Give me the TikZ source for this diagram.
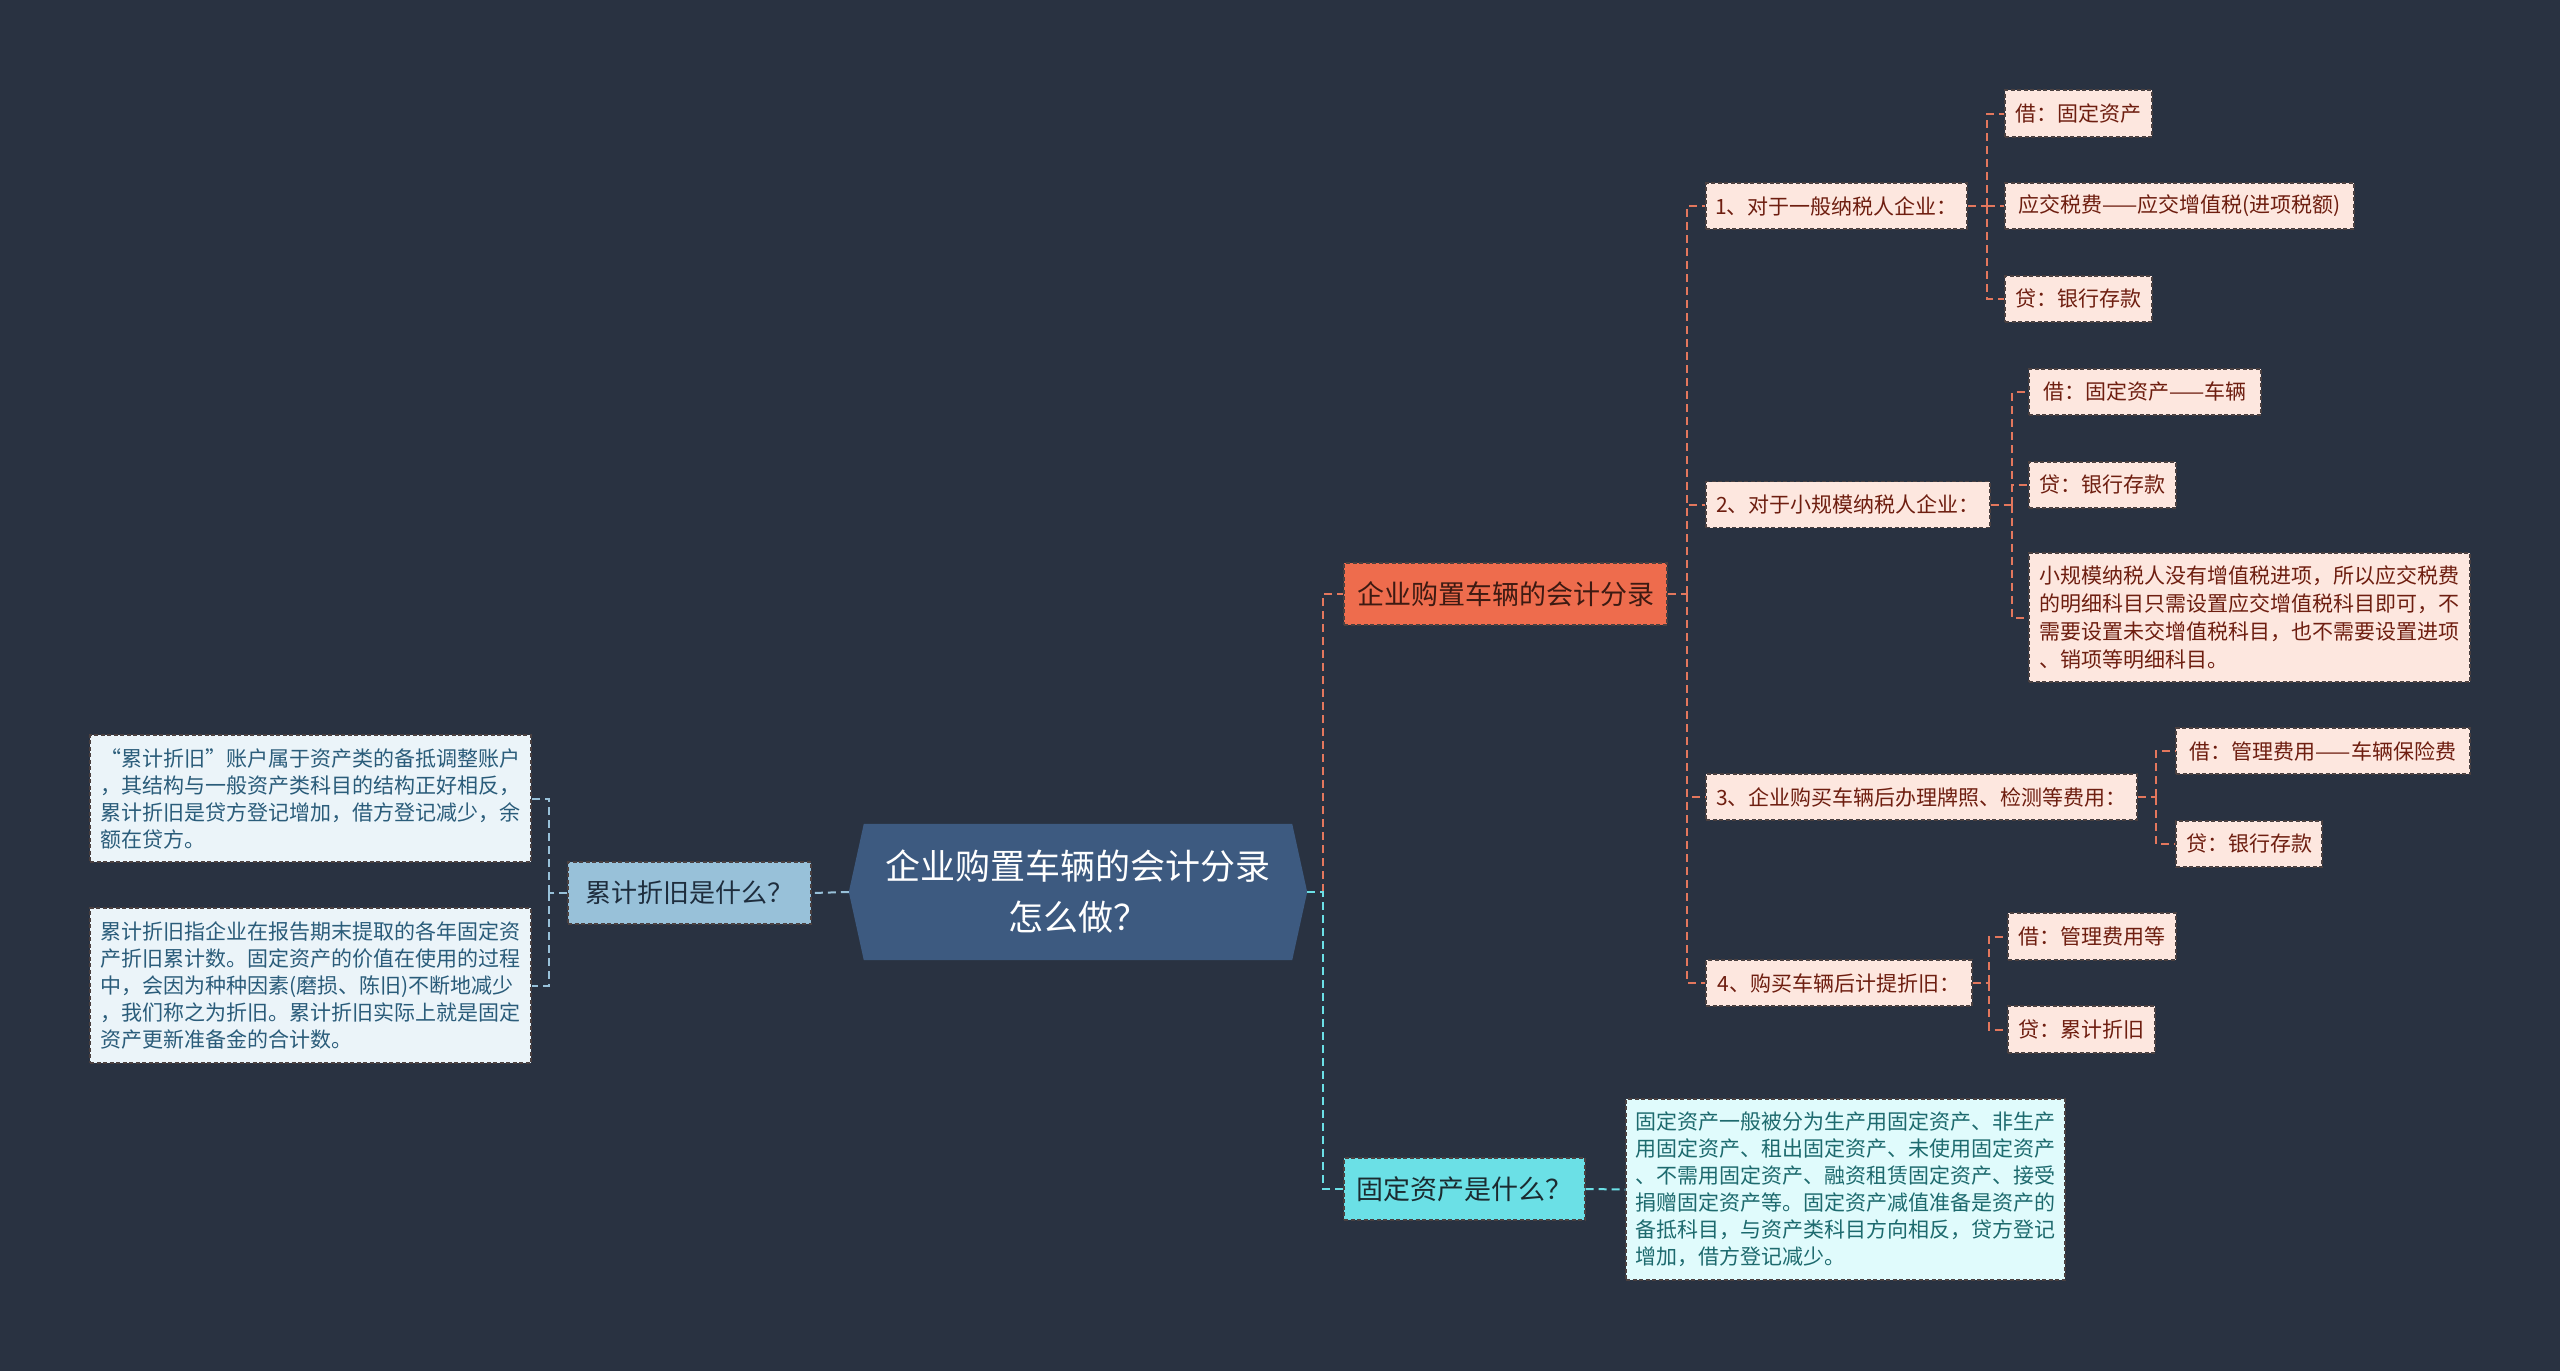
\documentclass[tikz,border=0pt]{standalone}
\usepackage{fontspec}
\setmainfont{Noto Sans CJK SC}
\usetikzlibrary{backgrounds}
\definecolor{bg}{HTML}{293241}
\definecolor{hexc}{HTML}{3D5A80}
\definecolor{orng}{HTML}{EE6C4D}
\definecolor{orngtxt}{HTML}{3D1A12}
\definecolor{pinkfill}{HTML}{FDE7DF}
\definecolor{pinktxt}{HTML}{6E1E10}
\definecolor{boxedge}{HTML}{4A4040}
\definecolor{olink}{HTML}{E3775D}
\definecolor{bnode}{HTML}{98C1D9}
\definecolor{bnodetxt}{HTML}{1E2D3D}
\definecolor{bfill}{HTML}{EBF4F9}
\definecolor{btxt}{HTML}{2A5C7A}
\definecolor{cnode}{HTML}{6BE0E6}
\definecolor{cnodetxt}{HTML}{1B2B30}
\definecolor{cfill}{HTML}{E0FBFC}
\definecolor{ctxt}{HTML}{1D6A6E}
\tikzset{
  basebox/.style={rectangle, draw=boxedge, dash pattern=on 4pt off 2.5pt, line width=1.3pt, inner sep=0pt},
  pinkbox/.style={basebox, fill=pinkfill, text=pinktxt, minimum height=46pt, font=\fontsize{21}{28}\selectfont},
  pinkpara/.style={pinkbox, align=left},
  orangebox/.style={basebox, fill=orng, text=orngtxt, minimum height=62pt, font=\fontsize{27}{32}\selectfont},
  bluebox/.style={basebox, fill=bnode, text=bnodetxt, minimum height=62pt, font=\fontsize{26}{32}\selectfont},
  bluepara/.style={basebox, fill=bfill, text=btxt, align=left, font=\fontsize{21}{27}\selectfont},
  cyanbox/.style={basebox, fill=cnode, text=cnodetxt, minimum height=62pt, font=\fontsize{27}{32}\selectfont},
  cyanpara/.style={basebox, fill=cfill, text=ctxt, align=left, font=\fontsize{21}{27}\selectfont},
  link/.style={dash pattern=on 8pt off 5pt, line width=2pt},
  olinkst/.style={link, draw=olink},
  blinkst/.style={link, draw=bnode},
  clinkst/.style={link, draw=cnode},
}
\begin{document}
\begin{tikzpicture}[x=1pt,y=-1pt]
\useasboundingbox (0,0) rectangle (2560,1371);

% root
\node[rectangle, minimum width=458pt, minimum height=136pt, inner sep=0pt, text=white, align=center,
  font=\fontsize{35}{51}\selectfont] (root) at (1078,892) {企业购置车辆的会计分录\\怎么做？};
\begin{pgfonlayer}{background}
\fill[bg] (0,0) rectangle (2560,1371);
\fill[hexc] ([xshift=15pt]root.north west) -- ([xshift=-15pt]root.north east) -- (root.east)
  -- ([xshift=-15pt]root.south east) -- ([xshift=15pt]root.south west) -- (root.west) -- cycle;
\end{pgfonlayer}

% left branch
\node[bluebox, minimum width=243pt] (lj) at (689.5,893) {累计折旧是什么？};
\node[bluepara, minimum width=441pt, minimum height=127pt] (lj1) at (310.5,798.5)
  {“累计折旧”账户属于资产类的备抵调整账户\\，其结构与一般资产类科目的结构正好相反，\\累计折旧是贷方登记增加，借方登记减少，余\\额在贷方。};
\node[bluepara, minimum width=441pt, minimum height=155pt] (lj2) at (310.5,985.5)
  {累计折旧指企业在报告期末提取的各年固定资\\产折旧累计数。固定资产的价值在使用的过程\\中，会因为种种因素(磨损、陈旧)不断地减少\\，我们称之为折旧。累计折旧实际上就是固定\\资产更新准备金的合计数。};

% right branches
\node[orangebox, minimum width=323pt] (ob) at (1505.5,594) {企业购置车辆的会计分录};
\node[cyanbox, minimum width=241pt] (fa) at (1464.5,1189) {固定资产是什么？};
\node[cyanpara, minimum width=439pt, minimum height=181pt] (fat) at (1845.5,1189.5)
  {固定资产一般被分为生产用固定资产、非生产\\用固定资产、租出固定资产、未使用固定资产\\、不需用固定资产、融资租赁固定资产、接受\\捐赠固定资产等。固定资产减值准备是资产的\\备抵科目，与资产类科目方向相反，贷方登记\\增加，借方登记减少。};

\node[pinkbox, minimum width=261pt] (n1) at (1836.5,206) {1、对于一般纳税人企业：};
\node[pinkbox, minimum width=147pt, minimum height=47pt] (n1a) at (2078.5,113.5) {借：固定资产};
\node[pinkbox, minimum width=349pt] (n1b) at (2179.5,206) {应交税费——应交增值税(进项税额)};
\node[pinkbox, minimum width=147pt] (n1c) at (2078.5,299) {贷：银行存款};

\node[pinkbox, minimum width=284pt] (n2) at (1848,504.5) {2、对于小规模纳税人企业：};
\node[pinkbox, minimum width=232pt] (n2a) at (2145,392) {借：固定资产——车辆};
\node[pinkbox, minimum width=147pt] (n2b) at (2102.5,485) {贷：银行存款};
\node[pinkpara, minimum width=441pt, minimum height=129pt] (n2c) at (2249.5,617.5)
  {小规模纳税人没有增值税进项，所以应交税费\\的明细科目只需设置应交增值税科目即可，不\\需要设置未交增值税科目，也不需要设置进项\\、销项等明细科目。};

\node[pinkbox, minimum width=431pt] (n3) at (1921.5,797) {3、企业购买车辆后办理牌照、检测等费用：};
\node[pinkbox, minimum width=294pt] (n3a) at (2323,751) {借：管理费用——车辆保险费};
\node[pinkbox, minimum width=146pt] (n3b) at (2249,844) {贷：银行存款};

\node[pinkbox, minimum width=266pt] (n4) at (1839,983) {4、购买车辆后计提折旧：};
\node[pinkbox, minimum width=168pt, minimum height=47pt] (n4a) at (2092,936.5) {借：管理费用等};
\node[pinkbox, minimum width=147pt, minimum height=47pt] (n4b) at (2081.5,1029.5) {贷：累计折旧};

% connectors
\coordinate (tl) at (549,893);
\draw[blinkst] (root.west) -- (lj.east);
\draw[blinkst] (lj.west) -- (tl);
\draw[blinkst] (tl) |- (lj1.east);
\draw[blinkst] (tl) |- (lj2.east);

\coordinate (tr) at (1323,892);
\draw[olinkst] (tr) |- (ob.west);
\draw[clinkst] (root.east) -- (tr) |- (fa.west);
\draw[clinkst] (fa.east) -- (fat.west);

\coordinate (t0) at (1687,594);
\draw[olinkst] (ob.east) -- (t0);
\draw[olinkst] (t0) |- (n1.west);
\draw[olinkst] (t0) |- (n2.west);
\draw[olinkst] (t0) |- (n3.west);
\draw[olinkst] (t0) |- (n4.west);

\coordinate (t1) at (1987,206);
\draw[olinkst] (n1.east) -- (t1);
\draw[olinkst] (t1) |- (n1a.west);
\draw[olinkst] (t1) -- (n1b.west);
\draw[olinkst] (t1) |- (n1c.west);

\coordinate (t2) at (2012,504.5);
\draw[olinkst] (n2.east) -- (t2);
\draw[olinkst] (t2) |- (n2a.west);
\draw[olinkst] (t2) |- (n2b.west);
\draw[olinkst] (t2) |- (n2c.west);

\coordinate (t3) at (2156,797);
\draw[olinkst] (n3.east) -- (t3);
\draw[olinkst] (t3) |- (n3a.west);
\draw[olinkst] (t3) |- (n3b.west);

\coordinate (t4) at (1989,983);
\draw[olinkst] (n4.east) -- (t4);
\draw[olinkst] (t4) |- (n4a.west);
\draw[olinkst] (t4) |- (n4b.west);
\end{tikzpicture}
\end{document}
